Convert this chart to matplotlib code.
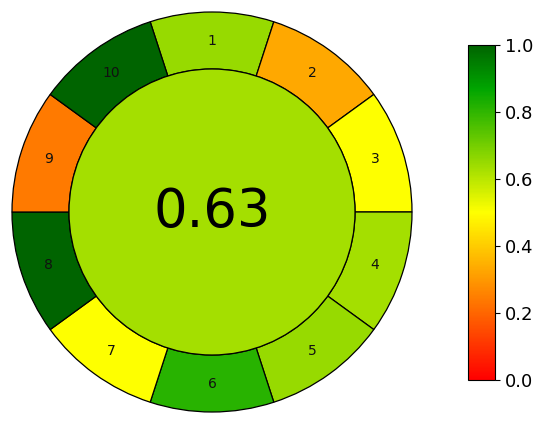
import math
import matplotlib
matplotlib.use("Agg")
import matplotlib.pyplot as plt
from matplotlib.patches import Wedge, Circle
from matplotlib.colors import LinearSegmentedColormap, Normalize
from matplotlib.cm import ScalarMappable

# scores per principle (1..10)
labels = ["1", "2", "3", "4", "5", "6", "7", "8", "9", "10"]
scores = [0.65, 0.33, 0.50, 0.63, 0.65, 0.81, 0.50, 1.00, 0.24, 1.00]
total = 0.63
cbar_ticks = [0.0, 0.2, 0.4, 0.6, 0.8, 1.0]

cmap = LinearSegmentedColormap.from_list(
    "agree", [(0.0, "#ff0000"), (0.5, "#ffff00"), (0.87, "#00a500"), (1.0, "#006400")])
norm = Normalize(0, 1)

fig = plt.figure(figsize=(5.5, 4.25), dpi=100)
ax = fig.add_axes([8 / 550, 9 / 425, 408 / 550, 408 / 425])
ax.set_xlim(-1.02, 1.02); ax.set_ylim(-1.02, 1.02)
ax.set_aspect("equal"); ax.axis("off")

r_out, r_in = 1.0, 0.715
n = len(scores)
step = 360 / n
for i, (lab, s) in enumerate(zip(labels, scores)):
    mid = 90 - i * step
    w = Wedge((0, 0), r_out, mid - step / 2, mid + step / 2, width=r_out - r_in,
              facecolor=cmap(norm(s)), edgecolor="black", linewidth=0.9)
    ax.add_patch(w)
    rr = (r_out + r_in) / 2
    ax.text(rr * math.cos(math.radians(mid)), rr * math.sin(math.radians(mid)), lab,
            ha="center", va="center", fontsize=10, color="#111111")

ax.add_patch(Circle((0, 0), r_in, facecolor=cmap(norm(total)), edgecolor="black", linewidth=0.9))
ax.text(0, 0, f"{total:.2f}", ha="center", va="center", fontsize=38, color="black")

cax = fig.add_axes([468 / 550, 45 / 425, 27 / 550, 335 / 425])
cb = fig.colorbar(ScalarMappable(norm=norm, cmap=cmap), cax=cax, ticks=cbar_ticks)
cb.ax.set_yticklabels([f"{t:.1f}" for t in cbar_ticks])
cb.ax.tick_params(labelsize=13)
cb.outline.set_linewidth(0.8)

fig.savefig("out.png", dpi=100)
